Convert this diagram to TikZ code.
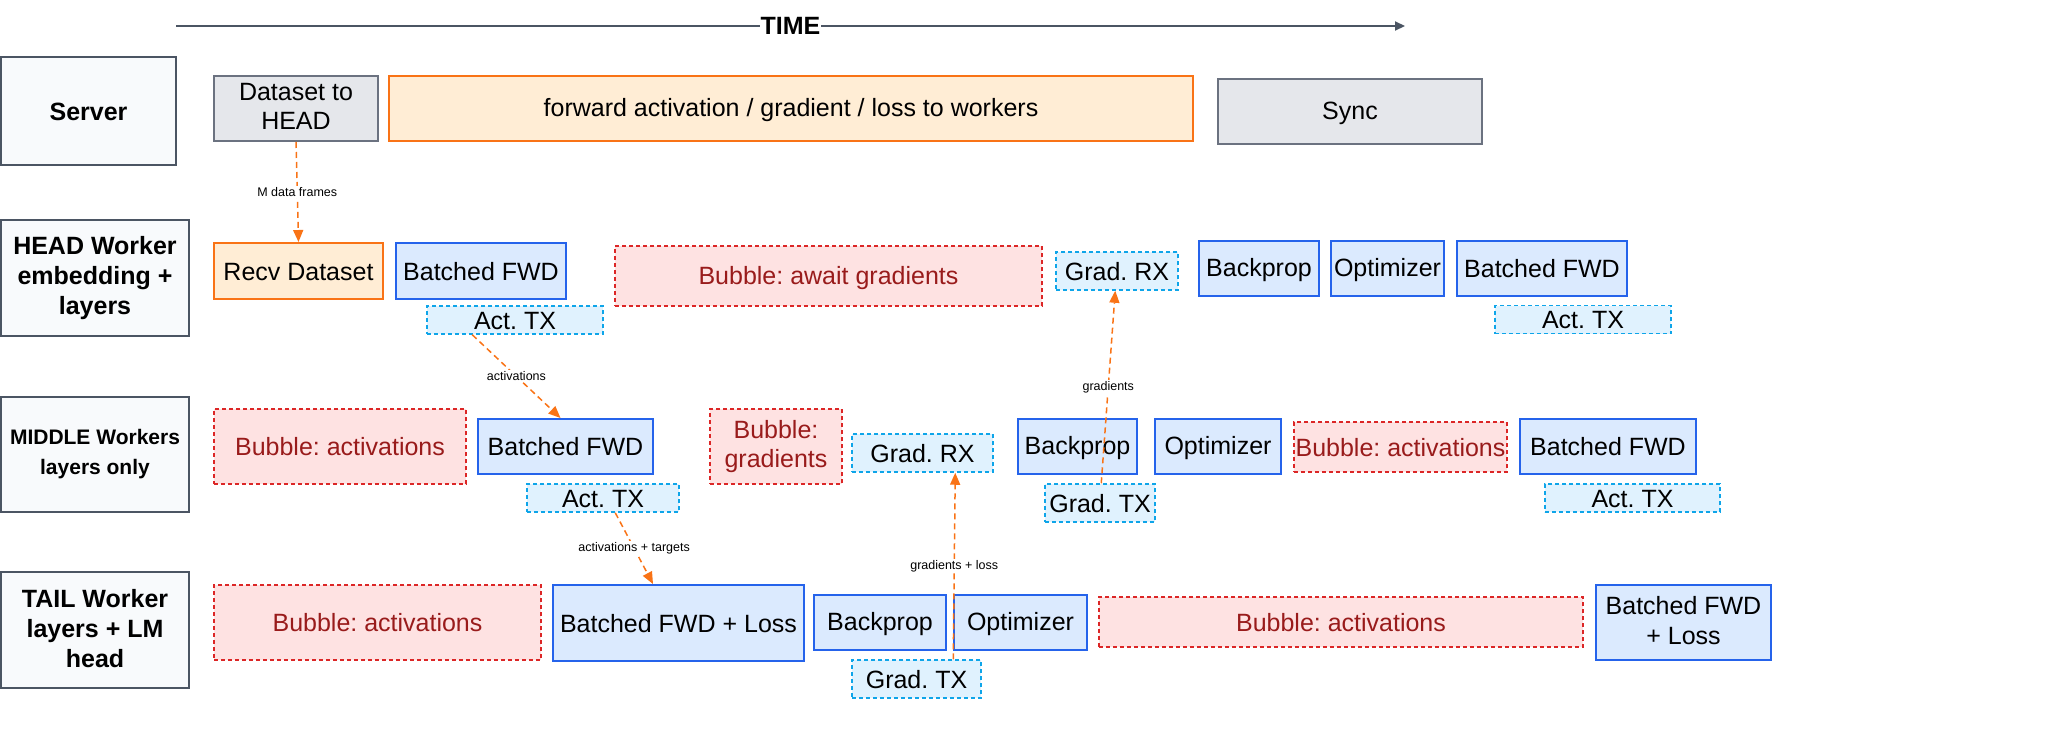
\documentclass[tikz,border=0pt]{standalone}
\usepackage{fontspec}
\setmainfont{Liberation Sans}
\frenchspacing
\usetikzlibrary{arrows.meta, positioning, calc}
\definecolor{lanefill}{HTML}{F8FAFC}
\definecolor{laneline}{HTML}{4B5563}
\definecolor{greyfill}{HTML}{E5E7EB}
\definecolor{greyline}{HTML}{6B7280}
\definecolor{orangefill}{HTML}{FFEDD5}
\definecolor{orangeline}{HTML}{F97316}
\definecolor{bluefill}{HTML}{DBEAFE}
\definecolor{blueline}{HTML}{2563EB}
\definecolor{txfill}{HTML}{E0F2FE}
\definecolor{txline}{HTML}{0EA5E9}
\definecolor{bubfill}{HTML}{FEE2E2}
\definecolor{bubline}{HTML}{DC2626}
\definecolor{bubtext}{HTML}{991B1B}

\tikzset{
  sz/.style 2 args={minimum width=#1, minimum height=#2},
  box/.style={draw, line width=2pt, inner sep=1pt, align=center,
    font=\fontsize{25}{29.5}\selectfont,
    execute at begin node={\rule{0pt}{22pt}},
    execute at end node={\rule[-4pt]{0pt}{4pt}}},
  lane/.style={box, fill=lanefill, draw=laneline},
  srvbox/.style={box, fill=greyfill, draw=greyline},
  ioBox/.style={box, fill=orangefill, draw=orangeline},
  work/.style={box, fill=bluefill, draw=blueline},
  txbox/.style={box, line width=1.5pt, fill=txfill, draw=txline,
    dash pattern=on 4pt off 3pt},
  bubble/.style={box, line width=1.5pt, fill=bubfill, draw=bubline,
    dash pattern=on 4pt off 3pt, text=bubtext},
  flow/.style={draw=orangeline, line width=1.5pt, dash pattern=on 6pt off 4pt,
    -{Triangle[length=12pt, width=10pt]}},
  tag/.style={fill=white, inner sep=1.5pt, text=black,
    font=\fontsize{12.5}{14}\selectfont},
  timeline/.style={draw=laneline, line width=2pt, -{Triangle[length=10pt, width=9pt]}}
}

\begin{document}
\begin{tikzpicture}[x=1pt, y=-1pt]
  \useasboundingbox (0,0) rectangle (2048,731);

  \coordinate (t0) at (176,26);
  \coordinate (t1) at (1405,26);
  \draw[timeline] (t0) -- node[pos=0.5, fill=white, inner sep=1pt,
    font=\bfseries\fontsize{25}{30}\selectfont] (time) {TIME} (t1);

  \foreach \nm/\x/\y/\w/\h/\fs/\txt in {
    srv/88.5/111/175/108/25/Server,
    headw/95/278/188/116/25/HEAD Worker\\embedding +\\layers,
    midw/95/454.5/188/115/21/MIDDLE Workers\\layers only,
    tailw/95/630/188/116/25/TAIL Worker\\layers + LM\\head}{
    \node[lane, sz={\w pt}{\h pt}, font=\bfseries\fontsize{\fs}{30}\selectfont]
      (\nm) at (\x,\y) {\txt};
  }

  \node[srvbox, sz={164pt}{65pt}] (ds) at (296,108.5) {Dataset to\\HEAD};
  \node[ioBox, sz={804pt}{65pt}] (fwdsrv) at (791,108.5) {forward activation / gradient / loss to workers};
  \node[srvbox, sz={264pt}{65pt}] (sync) at (1350,111.5) {Sync};

  \node[ioBox, sz={169pt}{56pt}] (recv) at (298.5,271) {Recv Dataset};
  \node[work, sz={170pt}{56pt}] (hfwd) at (481,271) {Batched FWD};
  \node[txbox, sz={176pt}{28pt}] (htx) at (515,320) {Act. TX};
  \node[bubble, sz={427pt}{60pt}] (hbub) at (828.5,276) {Bubble: await gradients};
  \node[txbox, sz={122pt}{38pt}] (hrx) at (1117,271) {Grad. RX};
  \node[work, sz={120pt}{55pt}] (hbp) at (1259,268.5) {Backprop};
  \node[work, sz={113pt}{55pt}] (hopt) at (1387.5,268.5) {Optimizer};
  \node[work, sz={170pt}{55pt}] (hfwd2) at (1542,268.5) {Batched FWD};
  \node[txbox, sz={176pt}{27pt}] (htx2) at (1583,319.5) {Act. TX};

  \node[bubble, sz={252pt}{75pt}] (mbub) at (340,446.5) {Bubble: activations};
  \node[work, sz={175pt}{55pt}] (mfwd) at (565.5,446.5) {Batched FWD};
  \node[txbox, sz={152pt}{28pt}] (mtx) at (603,498) {Act. TX};
  \node[bubble, sz={132pt}{75pt}] (mbubg) at (776,446.5) {Bubble:\\gradients};
  \node[txbox, sz={141pt}{38pt}] (mrx) at (922.5,453) {Grad. RX};
  \node[work, sz={119pt}{55pt}] (mbp) at (1077.5,446.5) {Backprop};
  \node[work, sz={126pt}{55pt}] (mopt) at (1218,446.5) {Optimizer};
  \node[bubble, sz={213pt}{50pt}] (mbub2) at (1400.5,447) {Bubble: activations};
  \node[work, sz={176pt}{55pt}] (mfwd2) at (1608,446.5) {Batched FWD};
  \node[txbox, sz={175pt}{28pt}] (mtx2) at (1632.5,498) {Act. TX};
  \node[txbox, sz={110pt}{38pt}] (mgtx) at (1100,503) {Grad. TX};

  \node[bubble, sz={327pt}{75pt}] (tbub) at (377.5,622.5) {Bubble: activations};
  \node[work, sz={251pt}{76pt}] (tfwd) at (678.5,623) {Batched FWD + Loss};
  \node[work, sz={132pt}{55pt}] (tbp) at (880,622.5) {Backprop};
  \node[work, sz={133pt}{55pt}] (topt) at (1020.5,622.5) {Optimizer};
  \node[bubble, sz={484pt}{50pt}] (tbub2) at (1341,622) {Bubble: activations};
  \node[work, sz={175pt}{75pt}] (tfwd2) at (1683.5,622.5) {Batched FWD\\+ Loss};
  \node[txbox, sz={129pt}{38pt}] (tgtx) at (916.5,679) {Grad. TX};

  \draw[flow] (ds.south) -- node[tag] {M data frames} (recv.north);
  \draw[flow] ([xshift=46pt]htx.south west) -- node[tag] {activations} ([xshift=-5pt]mfwd.north);
  \draw[flow] ([xshift=89pt]mtx.south west) -- node[tag] {activations + targets} ([xshift=101pt]tfwd.north west);
  \draw[flow] ([xshift=102pt]tgtx.north west) -- node[tag] {gradients + loss} ([xshift=104pt]mrx.south west);
  \draw[flow] ([xshift=57pt]mgtx.north west) -- node[tag] {gradients} ([xshift=60pt]hrx.south west);
\end{tikzpicture}
\end{document}
